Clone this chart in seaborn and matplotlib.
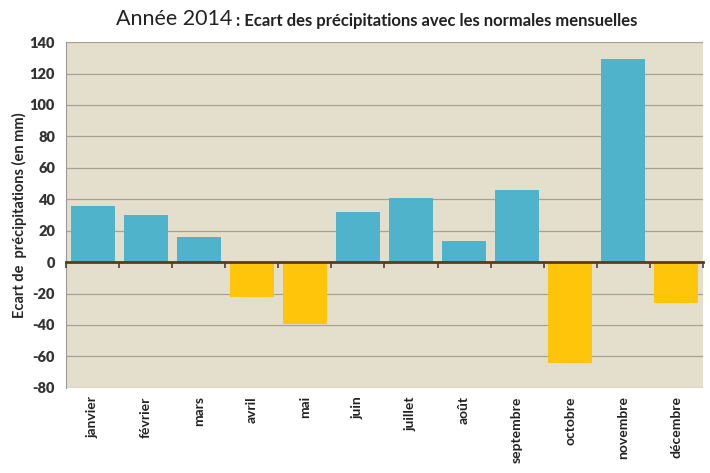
import numpy as np
import matplotlib
matplotlib.use("Agg")
import matplotlib.pyplot as plt
import pandas as pd
import seaborn as sns

mois = ['janvier', 'février', 'mars', 'avril', 'mai', 'juin', 'juillet',
        'août', 'septembre', 'octobre', 'novembre', 'décembre']
ecart = [36, 30, 16, -22, -39.5, 32, 41, 13.5, 46, -64, 129, -26]

df = pd.DataFrame({'mois': mois, 'ecart': ecart})
df['signe'] = np.where(df['ecart'] >= 0, 'pos', 'neg')

sns.set_style("white")
plt.rcParams['font.family'] = ['Lato', 'DejaVu Sans']
plt.rcParams['axes.unicode_minus'] = False

fig = plt.figure(figsize=(7.1, 4.73), dpi=100)
ax = fig.add_axes([0.093, 0.18, 0.897, 0.731])
ax.set_facecolor('#E4DECD')

sns.barplot(data=df, x='mois', y='ecart', hue='signe',
            palette={'pos': '#4FB3CC', 'neg': '#FFC50A'},
            dodge=False, legend=False, width=0.83, saturation=1,
            linewidth=0, edgecolor='none', ax=ax, zorder=3)

ax.set_ylim(-80, 140)
ax.set_xlim(-0.5, 11.5)
ax.set_yticks(range(-80, 141, 20))
ax.yaxis.grid(True, color='#A8A294', lw=0.9, zorder=0)
ax.set_axisbelow(True)

for s in ['top', 'right', 'bottom']:
    ax.spines[s].set_visible(False)
ax.spines['left'].set_color('#9A9A9A')
ax.tick_params(axis='y', direction='out', length=4, color='#9A9A9A',
               labelsize=10.5, pad=4)
plt.setp(ax.get_yticklabels(), fontweight='heavy', color='#333333')

ax.tick_params(axis='x', length=0, pad=6, labelsize=10)
ax.set_xticks(range(12))
ax.set_xticklabels(mois, rotation=90, fontweight='bold', va='top', color='#222222')
ax.set_xlabel('')
ax.set_ylabel('Ecart de  précipitations (en mm)', fontsize=10.5,
              fontweight='bold', labelpad=2)

# zero line with ticks between categories
sec = ax.secondary_xaxis(80 / 220)
sec.set_xticks(np.arange(-0.5, 12, 1))
sec.set_xticklabels([])
sec.spines['bottom'].set_color('#5C3A1E')
sec.spines['bottom'].set_linewidth(2)
sec.tick_params(direction='out', length=4, width=1.2, color='#5C3A1E')
sec.set_zorder(4)

t1 = fig.text(0.163, 0.948, 'Année 2014', fontsize=15.5, va='baseline', color='#222222')
ax.annotate(' : Ecart des précipitations avec les normales mensuelles',
            xy=(1, 0), xycoords=t1, va='bottom', fontsize=12,
            fontweight='bold', color='#222222')

fig.savefig('out.png', dpi=100, facecolor='white')
